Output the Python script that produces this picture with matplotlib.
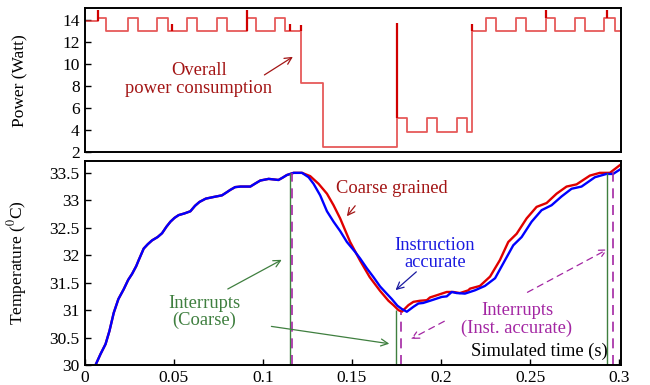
import numpy as np
import matplotlib
matplotlib.use("Agg")
import matplotlib.pyplot as plt

plt.rcParams['font.family'] = ['Liberation Serif', 'DejaVu Serif']
plt.rcParams['mathtext.fontset'] = 'stix'
plt.rcParams['font.size'] = 12.5

# power trace (step, value holds until next time)
power_t = [0.0, 0.0077, 0.0123, 0.0245, 0.0301, 0.0407, 0.0467, 0.0575, 0.0631,
           0.0743, 0.0799, 0.0911, 0.0962, 0.1070, 0.1126, 0.1216, 0.1337, 0.1752,
           0.1807, 0.1920, 0.1976, 0.2088, 0.2144, 0.2172, 0.2252, 0.2308, 0.2420,
           0.2476, 0.2588, 0.2639, 0.2751, 0.2807, 0.2915, 0.2975, 0.3008]
power_w = [13.9, 14.2, 13.0, 14.2, 13.0, 14.2, 13.0, 14.2, 13.0,
           14.2, 13.0, 14.2, 13.0, 14.2, 13.0, 8.25, 2.44, 5.1,
           3.8, 5.1, 3.8, 5.1, 3.8, 13.0, 14.2, 13.0, 14.2,
           13.0, 14.2, 13.0, 14.2, 13.0, 14.2, 13.0, 13.0]
spike_t = [0.0077, 0.0491, 0.0911, 0.1154, 0.1216, 0.1752, 0.2172, 0.2588, 0.2930]
spike_lo = [13.9, 13.0, 13.0, 13.0, 13.0, 5.1, 13.0, 14.2, 14.2]
spike_hi = [14.85, 13.6, 14.85, 13.6, 13.5, 13.7, 13.6, 14.9, 14.9]

# temperature, common warm-up part
rise_t = [0.003, 0.0062, 0.009, 0.0118, 0.014, 0.0164, 0.019, 0.022, 0.0245, 0.0267,
          0.029, 0.0304, 0.0332, 0.0355, 0.0379, 0.041, 0.0435, 0.046, 0.0482, 0.0505,
          0.0528, 0.056, 0.0594, 0.062, 0.0645, 0.068, 0.0724, 0.0771, 0.0795, 0.0818,
          0.0845, 0.0875, 0.093, 0.096, 0.0986, 0.1033, 0.1088, 0.111, 0.1135, 0.1173,
          0.122]
rise_T = [29.85, 30.0, 30.2, 30.38, 30.62, 30.95, 31.2, 31.38, 31.55, 31.66,
          31.8, 31.91, 32.12, 32.2, 32.27, 32.33, 32.4, 32.52, 32.61, 32.68,
          32.73, 32.76, 32.8, 32.9, 32.97, 33.03, 33.06, 33.09, 33.14, 33.19,
          33.24, 33.25, 33.25, 33.31, 33.36, 33.39, 33.37, 33.41, 33.46, 33.5,
          33.5]

coarse_t = [0.1266, 0.1313, 0.136, 0.1397, 0.1434, 0.149, 0.1546, 0.16, 0.1658,
            0.1705, 0.1733, 0.1761, 0.178, 0.1817, 0.1845, 0.1882, 0.192, 0.1938,
            0.1976, 0.2013, 0.2032, 0.2069, 0.2106, 0.2153, 0.2162, 0.2218, 0.2275,
            0.233, 0.2377, 0.2424, 0.248, 0.2536, 0.2592, 0.2648, 0.2704, 0.276,
            0.2835, 0.2891, 0.2947, 0.3003, 0.302]
coarse_T = [33.44, 33.3, 33.12, 32.91, 32.67, 32.24, 31.9, 31.6, 31.35,
            31.17, 31.09, 31.0, 30.97, 31.09, 31.15, 31.17, 31.18, 31.23,
            31.27, 31.31, 31.33, 31.33, 31.31, 31.36, 31.39, 31.44, 31.61,
            31.91, 32.24, 32.39, 32.67, 32.88, 32.95, 33.12, 33.25, 33.29,
            33.45, 33.5, 33.5, 33.64, 33.68]

inst_t = [0.1257, 0.1285, 0.1322, 0.136, 0.1397, 0.1434, 0.1472, 0.1518, 0.1546,
          0.1584, 0.1621, 0.1658, 0.1695, 0.1724, 0.1755, 0.178, 0.1808, 0.1845,
          0.1873, 0.19, 0.1948, 0.2004, 0.2032, 0.206, 0.2088, 0.2134, 0.219,
          0.2246, 0.2303, 0.2359, 0.2405, 0.2452, 0.2508, 0.2564, 0.262, 0.2676,
          0.2732, 0.2788, 0.2863, 0.2928, 0.2965, 0.3003, 0.302]
inst_T = [33.42, 33.3, 33.09, 32.8, 32.61, 32.44, 32.24, 32.06, 31.94,
          31.76, 31.6, 31.43, 31.3, 31.2, 31.08, 31.02, 30.97, 31.06,
          31.12, 31.13, 31.18, 31.24, 31.25, 31.33, 31.31, 31.3, 31.36,
          31.44, 31.58, 31.91, 32.18, 32.33, 32.61, 32.82, 32.91, 33.07,
          33.21, 33.25, 33.42, 33.48, 33.48, 33.56, 33.6]

coarse_irq_t = [0.115, 0.175, 0.293]
coarse_irq_T = [33.5, 31.0, 33.5]
inst_irq_t = [0.1162, 0.1777, 0.2965]
inst_irq_T = [33.5, 30.97, 33.55]

xticks = [0, 0.05, 0.1, 0.15, 0.2, 0.25, 0.3]
xtick_labels = ['0', '0.05', '0.1', '0.15', '0.2', '0.25', '0.3']
temp_ticks = [30, 30.5, 31, 31.5, 32, 32.5, 33, 33.5]
temp_labels = ['30', '30.5', '31', '31.5', '32', '32.5', '33', '33.5']
power_ticks = [2, 4, 6, 8, 10, 12, 14]

dark_red = '#a31515'
green = '#3f7f3f'
purple = '#a326a3'
note_size = 13.3

fig = plt.figure(figsize=(6.5, 3.85), dpi=100)
ax1 = fig.add_axes([0.13, 0.605, 0.825, 0.373])
ax2 = fig.add_axes([0.13, 0.052, 0.825, 0.529])

for ax in (ax1, ax2):
    for s in ax.spines.values():
        s.set_linewidth(1.4)
    ax.tick_params(direction='in', length=4, width=1, top=False, right=False)
    ax.set_xlim(0, 0.3008)

# top panel: power
ax1.step(power_t, power_w, where='post', color='#e03030', lw=1.3, alpha=0.8)
ax1.vlines(spike_t, spike_lo, spike_hi, color='#d00000', lw=1.6)
ax1.set_ylim(2, 15.02)
ax1.set_yticks(power_ticks)
ax1.set_xticks([])
ax1.set_ylabel('Power (Watt)')
ax1.yaxis.set_label_coords(-0.104, 0.5)
ax1.text(0.0641, 8.6, 'Overall\npower consumption', color=dark_red, fontsize=note_size,
         ha='center', va='center', multialignment='center', linespacing=1.1)
ax1.annotate('', xy=(0.1182, 10.77), xytext=(0.0996, 8.86),
             arrowprops=dict(arrowstyle='->', color=dark_red, lw=0.9))

# bottom panel: temperature
ax2.plot(rise_t + coarse_t, rise_T + coarse_T, color='#e00000', lw=1.7)
ax2.plot(rise_t + inst_t, rise_T + inst_T, color='#0000ff', lw=1.7)
ax2.vlines(coarse_irq_t, 30, coarse_irq_T, color=green, lw=1.0)
ax2.vlines(inst_irq_t, 30, inst_irq_T, color=purple, lw=1.2, linestyles=(0, (6, 4)))
ax2.set_ylim(30, 33.71)
ax2.set_yticks(temp_ticks)
ax2.set_yticklabels(temp_labels)
ax2.set_xticks(xticks)
ax2.set_xticklabels(xtick_labels)
ax2.set_ylabel('Temperature ($^0$C)')
ax2.yaxis.set_label_coords(-0.104, 0.5)

ax2.text(0.1723, 33.22, 'Coarse grained', color=dark_red, fontsize=note_size,
         ha='center', va='center')
ax2.annotate('', xy=(0.1462, 32.67), xytext=(0.1528, 32.94),
             arrowprops=dict(arrowstyle='->', color=dark_red, lw=0.9))
ax2.text(0.1966, 32.03, 'Instruction\naccurate', color='#1a1ae0', fontsize=note_size,
         ha='center', va='center', multialignment='center', linespacing=1.0)
ax2.annotate('', xy=(0.1733, 31.33), xytext=(0.1873, 31.73),
             arrowprops=dict(arrowstyle='->', color='#1a1aa0', lw=0.9))
ax2.text(0.0672, 30.97, 'Interrupts\n(Coarse)', color=green, fontsize=note_size,
         ha='center', va='center', multialignment='center', linespacing=1.0)
ax2.annotate('', xy=(0.112, 31.94), xytext=(0.079, 31.36),
             arrowprops=dict(arrowstyle='->', color=green, lw=0.9))
ax2.annotate('', xy=(0.1725, 30.38), xytext=(0.1033, 30.71),
             arrowprops=dict(arrowstyle='->', color=green, lw=0.9))
ax2.text(0.2426, 30.83, 'Interrupts\n(Inst. accurate)', color=purple, fontsize=note_size,
         ha='center', va='center', multialignment='center', linespacing=1.0)
ax2.annotate('', xy=(0.1817, 30.45), xytext=(0.2032, 30.82),
             arrowprops=dict(arrowstyle='->', color=purple, lw=0.9, linestyle=(0, (5, 4))))
ax2.annotate('', xy=(0.2947, 32.13), xytext=(0.2471, 31.3),
             arrowprops=dict(arrowstyle='->', color=purple, lw=0.9, linestyle=(0, (5, 4))))
ax2.text(0.2936, 30.25, 'Simulated time (s)', color='black', fontsize=note_size,
         ha='right', va='center')

fig.savefig('out.png', dpi=100)
